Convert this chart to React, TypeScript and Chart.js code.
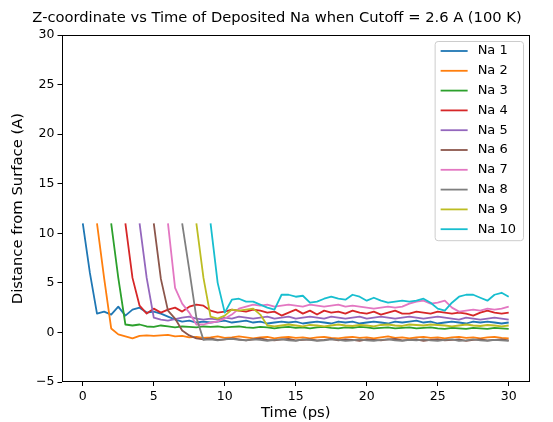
import React, { useEffect, useRef } from "react";
import { Chart, registerables } from "chart.js";

Chart.register(...registerables);

const FONT = "'DejaVu Sans', sans-serif";
const TITLE = "Z-coordinate vs Time of Deposited Na when Cutoff = 2.6 A (100 K)";
const X_LABEL = "Time (ps)";
const Y_LABEL = "Distance from Surface (A)";

const seriesLabels = ["Na 1", "Na 2", "Na 3", "Na 4", "Na 5", "Na 6", "Na 7", "Na 8", "Na 9", "Na 10"];
const startTimes = [0, 1, 2, 3, 4, 5, 6, 7, 8, 9];
const timeStep = 0.5;
const xTicks = [0, 5, 10, 15, 20, 25, 30];
const yTicks = [-5, 0, 5, 10, 15, 20, 25, 30];
const colors = ["#1f77b4", "#ff7f0e", "#2ca02c", "#d62728", "#9467bd", "#8c564b", "#e377c2", "#7f7f7f", "#bcbd22", "#17becf"];

const na1 = [
  11, 6.0, 1.9, 2.1, 1.8, 2.6, 1.7, 2.3, 2.5, 2.0,
  2.1, 1.9, 1.6, 1.3, 1.1, 1.2, 1.0, 1.1, 1.0, 1.1,
  1.2, 1.0, 1.1, 1.2, 1.0, 1.1, 0.9, 1.0, 1.1, 1.0,
  1.1, 0.9, 1.0, 1.1, 1.0, 0.9, 1.1, 1.0, 1.1, 0.9,
  1.0, 1.1, 1.0, 0.9, 1.1, 1.0, 1.1, 1.2, 1.0, 1.1,
  0.9, 1.0, 1.1, 1.0, 0.9, 1.1, 1.0, 1.1, 1.0, 0.9,
  1.0,
];
const na2 = [
  11, 5.5, 0.4, -0.2, -0.4, -0.6, -0.35, -0.3, -0.35, -0.3,
  -0.25, -0.4, -0.35, -0.5, -0.45, -0.55, -0.5, -0.4, -0.55, -0.5,
  -0.4, -0.5, -0.6, -0.5, -0.45, -0.6, -0.5, -0.45, -0.55, -0.5,
  -0.6, -0.5, -0.45, -0.55, -0.6, -0.5, -0.45, -0.55, -0.5, -0.6,
  -0.5, -0.4, -0.55, -0.5, -0.6, -0.5, -0.45, -0.55, -0.5, -0.6,
  -0.5, -0.45, -0.55, -0.5, -0.6, -0.5, -0.45, -0.55, -0.6,
];
const na3 = [
  11, 5.5, 0.8, 0.7, 0.8, 0.6, 0.55, 0.7, 0.6, 0.5,
  0.6, 0.55, 0.5, 0.6, 0.55, 0.6, 0.5, 0.55, 0.6, 0.5,
  0.45, 0.55, 0.5, 0.4, 0.5, 0.55, 0.45, 0.5, 0.4, 0.5,
  0.55, 0.45, 0.4, 0.5, 0.45, 0.55, 0.5, 0.4, 0.45, 0.5,
  0.4, 0.45, 0.5, 0.4, 0.45, 0.5, 0.4, 0.35, 0.45, 0.4,
  0.35, 0.45, 0.4, 0.35, 0.45, 0.4, 0.35,
];
const na4 = [
  11, 5.5, 2.7, 1.9, 2.4, 2.0, 2.3, 2.5, 2.1, 2.6,
  2.8, 2.7, 2.2, 2.0, 2.1, 2.3, 2.2, 2.1, 2.3, 2.2,
  2.0, 2.1, 1.7, 2.0, 2.3, 1.9, 2.2, 1.8, 2.2, 2.0,
  2.1, 1.9, 2.2, 2.0, 1.9, 2.1, 1.8, 2.0, 2.2, 1.9,
  1.9, 2.1, 2.0, 1.9, 2.1, 2.0, 1.9, 2.0, 1.9, 1.7,
  2.0, 2.2, 2.0, 1.9, 2.0,
];
const na5 = [
  11, 5.5, 1.5, 1.3, 1.2, 1.35, 1.5, 1.6, 1.4, 1.3,
  1.4, 1.3, 1.5, 1.4, 1.6, 1.5, 1.4, 1.5, 1.6, 1.4,
  1.5, 1.6, 1.4, 1.5, 1.6, 1.5, 1.4, 1.6, 1.5, 1.4,
  1.5, 1.6, 1.4, 1.5, 1.6, 1.5, 1.4, 1.5, 1.6, 1.5,
  1.4, 1.5, 1.6, 1.5, 1.4, 1.3, 1.5, 1.4, 1.3, 1.4,
  1.5, 1.4, 1.3,
];
const na6 = [
  11, 5.4, 2.2, 1.4, 0.2, -0.3, -0.6, -0.7, -0.6, -0.75,
  -0.7, -0.6, -0.7, -0.8, -0.7, -0.6, -0.75, -0.8, -0.7, -0.65,
  -0.8, -0.75, -0.7, -0.8, -0.75, -0.65, -0.8, -0.7, -0.75, -0.85,
  -0.7, -0.75, -0.8, -0.7, -0.65, -0.8, -0.75, -0.7, -0.85, -0.75,
  -0.7, -0.8, -0.75, -0.7, -0.85, -0.75, -0.7, -0.8, -0.75, -0.7,
  -0.8,
];
const na7 = [
  11, 4.5, 2.9, 2.0, 0.8, 0.8, 1.0, 1.1, 1.4, 1.8,
  2.4, 2.6, 2.8, 2.7, 2.8, 2.6, 2.7, 2.8, 2.7, 2.6,
  2.8, 2.7, 2.6, 2.7, 2.8, 2.6, 2.7, 2.6, 2.5, 2.4,
  2.5, 2.6, 2.5, 2.6, 2.9, 3.1, 3.2, 2.9, 3.0, 3.2,
  2.5, 2.1, 2.2, 2.3, 2.2, 2.4, 2.3, 2.4, 2.6,
];
const na8 = [
  11, 6.3, 1.5, -0.75, -0.7, -0.8, -0.7, -0.65, -0.75, -0.8,
  -0.7, -0.75, -0.85, -0.75, -0.7, -0.8, -0.85, -0.7, -0.75, -0.85,
  -0.8, -0.7, -0.75, -0.85, -0.8, -0.7, -0.8, -0.85, -0.75, -0.7,
  -0.8, -0.85, -0.75, -0.8, -0.7, -0.8, -0.85, -0.75, -0.7, -0.85,
  -0.8, -0.7, -0.8, -0.85, -0.75, -0.8, -0.85,
];
const na9 = [
  11, 5.5, 1.6, 1.4, 1.7, 2.3, 2.2, 2.3, 2.4, 1.8,
  0.7, 0.6, 0.7, 0.8, 0.7, 0.6, 0.75, 0.7, 0.6, 0.7,
  0.8, 0.7, 0.65, 0.75, 0.7, 0.6, 0.75, 0.8, 0.7, 0.65,
  0.8, 0.75, 0.7, 0.8, 0.75, 0.7, 0.6, 0.7, 0.8, 0.7,
  0.65, 0.75, 0.7, 0.6, 0.7,
];
const na10 = [
  11, 5.0, 2.0, 3.3, 3.4, 3.1, 3.1, 2.8, 2.5, 2.3,
  3.8, 3.8, 3.6, 3.7, 3.0, 3.1, 3.4, 3.6, 3.4, 3.3,
  3.8, 3.6, 3.2, 3.5, 3.2, 3.0, 3.1, 3.2, 3.1, 3.2,
  3.4, 3.0, 2.4, 2.2, 3.0, 3.6, 3.8, 3.8, 3.5, 3.2,
  3.8, 4.0, 3.6,
];

const seriesValues = [na1, na2, na3, na4, na5, na6, na7, na8, na9, na10];

const titlePlugin = {
  id: "mplTitle",
  afterDraw(chart: any) {
    const { ctx } = chart;
    ctx.save();
    ctx.font = `14.7px ${FONT}`;
    ctx.fillStyle = "#000";
    ctx.textAlign = "center";
    ctx.textBaseline = "middle";
    ctx.fillText(TITLE, 277, 18);
    ctx.restore();
  },
};

const framePlugin = {
  id: "frame",
  afterDatasetsDraw(chart: any) {
    const { ctx, chartArea } = chart;
    ctx.save();
    ctx.strokeStyle = "#000";
    ctx.lineWidth = 1;
    const l = Math.round(chartArea.left) + 0.5;
    const t = Math.round(chartArea.top) + 0.5;
    const r = Math.round(chartArea.right) - 0.5;
    const b = Math.round(chartArea.bottom) - 0.5;
    ctx.strokeRect(l, t, r - l, b - t);
    ctx.restore();
  },
};

const legendPlugin = {
  id: "mplLegend",
  afterDraw(chart: any) {
    const { ctx, chartArea } = chart;
    const fontSize = 13;
    const inset = 6.5;
    const pad = 5.5;
    const handleLen = 27;
    const textPad = 10;
    const rowH = 19.8;
    ctx.save();
    ctx.font = `${fontSize}px ${FONT}`;
    const ds = chart.data.datasets;
    let maxW = 0;
    ds.forEach((d: any) => {
      maxW = Math.max(maxW, ctx.measureText(d.label).width);
    });
    const w = pad * 2 + handleLen + textPad + maxW + 2;
    const h = 9.5 + (ds.length - 1) * rowH + 11.5;
    const x0 = chartArea.right - inset - w;
    const y0 = chartArea.top + inset;
    const rad = 3;
    ctx.beginPath();
    ctx.moveTo(x0 + rad, y0);
    ctx.lineTo(x0 + w - rad, y0);
    ctx.quadraticCurveTo(x0 + w, y0, x0 + w, y0 + rad);
    ctx.lineTo(x0 + w, y0 + h - rad);
    ctx.quadraticCurveTo(x0 + w, y0 + h, x0 + w - rad, y0 + h);
    ctx.lineTo(x0 + rad, y0 + h);
    ctx.quadraticCurveTo(x0, y0 + h, x0, y0 + h - rad);
    ctx.lineTo(x0, y0 + rad);
    ctx.quadraticCurveTo(x0, y0, x0 + rad, y0);
    ctx.closePath();
    ctx.fillStyle = "rgba(255,255,255,0.8)";
    ctx.fill();
    ctx.strokeStyle = "#cccccc";
    ctx.lineWidth = 1;
    ctx.stroke();
    ds.forEach((d: any, i: number) => {
      const cy = y0 + 9.5 + i * rowH;
      ctx.strokeStyle = d.borderColor;
      ctx.lineWidth = 1.8;
      ctx.beginPath();
      ctx.moveTo(x0 + pad, cy);
      ctx.lineTo(x0 + pad + handleLen, cy);
      ctx.stroke();
      ctx.fillStyle = "#000";
      ctx.textBaseline = "middle";
      ctx.textAlign = "left";
      ctx.fillText(d.label, x0 + pad + handleLen + textPad, cy);
    });
    ctx.restore();
  },
};

const minusFmt = (v: number) => String(v).replace("-", "\u2212");

export default function App() {
  const ref = useRef<HTMLCanvasElement>(null);
  useEffect(() => {
    document.body.style.margin = "0";
    const datasets = seriesValues.map((vals, i) => ({
      label: seriesLabels[i],
      data: vals.map((v, k) => ({ x: startTimes[i] + k * timeStep, y: v })),
      borderColor: colors[i],
      backgroundColor: colors[i],
      borderWidth: 1.8,
      borderJoinStyle: "round" as const,
      pointRadius: 0,
      tension: 0,
      fill: false,
      order: seriesValues.length - 1 - i,
    }));
    const tickFont = { family: FONT, size: 12.5 };
    const labelFont = { family: FONT, size: 14.8 };
    const chart = new Chart(ref.current as HTMLCanvasElement, {
      type: "line",
      data: { datasets },
      options: {
        animation: false,
        responsive: false,
        devicePixelRatio: 1,
        layout: { padding: { left: 0, right: 23, top: 35, bottom: 0 } },
        plugins: {
          legend: { display: false },
          tooltip: { enabled: false },
          title: { display: false },
        },
        scales: {
          x: {
            type: "linear",
            min: -1.5,
            max: 31.5,
            afterBuildTicks: (s: any) => {
              s.ticks = xTicks.map((v) => ({ value: v }));
            },
            afterFit: (s: any) => {
              s.height = 40;
            },
            grid: { drawOnChartArea: false, drawTicks: true, tickLength: 4, tickColor: "#000", tickWidth: 1 },
            border: { display: false },
            ticks: { color: "#000", font: tickFont, padding: 3, maxRotation: 0, autoSkip: false, callback: (v: any) => minusFmt(v) },
            title: { display: true, text: X_LABEL, color: "#000", font: labelFont, padding: { top: 0, bottom: 0 } },
          },
          y: {
            type: "linear",
            min: -5,
            max: 30,
            afterBuildTicks: (s: any) => {
              s.ticks = yTicks.map((v) => ({ value: v }));
            },
            afterFit: (s: any) => {
              s.width = 61.5;
            },
            grid: { drawOnChartArea: false, drawTicks: true, tickLength: 4, tickColor: "#000", tickWidth: 1 },
            border: { display: false },
            ticks: { color: "#000", font: tickFont, padding: 3, autoSkip: false, callback: (v: any) => minusFmt(v) },
            title: { display: true, text: Y_LABEL, color: "#000", font: labelFont, padding: { top: 9, bottom: 0 } },
          },
        },
      },
      plugins: [framePlugin, legendPlugin, titlePlugin],
    } as any);
    return () => chart.destroy();
  }, []);
  return <canvas ref={ref} width={553} height={422} style={{ display: "block" }} />;
}
